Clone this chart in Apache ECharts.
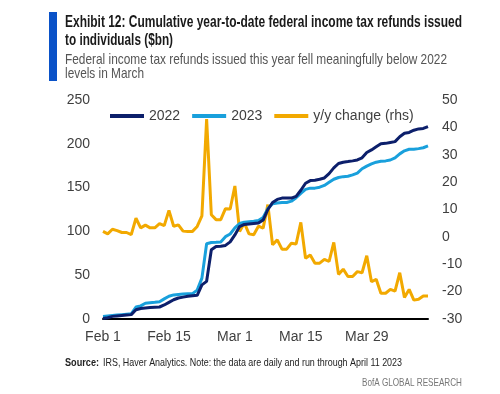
<!DOCTYPE html>
<html>
<head>
<meta charset="utf-8">
<style>
html,body{margin:0;padding:0;background:#fff;}
#chart{width:500px;height:394px;}
</style>
<script src="https://cdn.jsdelivr.net/npm/echarts@6/dist/echarts.min.js"></script>
</head>
<body>
<div id="chart"></div>
<script>
// Dates: Feb 1 .. Apr 11 (daily)
const dates = (function(){
  const out = [];
  const dim = {Feb:28, Mar:31, Apr:11};
  ['Feb','Mar','Apr'].forEach(m => { for (let d = 1; d <= dim[m]; d++) out.push(m + ' ' + d); });
  return out;
})();

const refunds2022 = [0.5,1.5,3,3.5,4,4.5,5,10.6,12,12.5,13,13.5,13.7,16,19,22,24,25,26,26.5,27,39,43,79,82.8,83,84,88,96,105.5,108,108.5,109,109.5,113,125,133,136.5,138,138,138,140,147,155,158,158.5,159.5,161,166,172.5,177.5,179,179.7,180.5,181.6,184,190,193,196.5,200,200.5,201.5,202.5,208,212,213,215.5,217,217.5,219.6];

const refunds2023 = [3,3.5,4,4.5,5,5.5,6,13.7,15,18,18.5,19,19.7,23,26,27.5,28,28.5,28.8,29,33,46.7,85.9,87.4,87.5,88,94,97,104,109,110.5,111,111.5,112.5,116,126,131.5,132.5,133,133,134.5,138.5,143.5,148,149.4,149.4,150.5,152.5,156,159.5,161.5,162.5,163,164.5,166.5,171.5,174.5,177,179,180,180.5,181.5,184,188.5,192,193.8,193.8,194.5,195.5,197.6];

const yoyChange = [2,1.1,2.8,2.3,1.6,1.6,0.8,6.8,3.3,4.3,3.3,3.3,4.8,4.1,9.7,3.9,4.4,2.1,2,2,3.8,7.7,43,8.1,6.3,6.3,10.3,10.2,18.6,2,5.1,1.1,0.8,3.9,3.2,11.8,-2.9,-1.1,-4.5,-4.5,-2.3,-2.6,5.3,-7.8,-6.6,-9.6,-9.6,-8.2,-9,-2,-13.7,-11.8,-14.5,-14.5,-12.7,-13.1,-6.9,-16.4,-15.5,-20.6,-20.6,-19.2,-19.8,-13.1,-22.1,-19.2,-23.1,-22.8,-21.6,-21.6];

const leftTicks = {min: 0, max: 250, interval: 50};
const rightTicks = {min: -30, max: 50, interval: 10};

const titleLines = ['Exhibit 12: Cumulative year-to-date federal income tax refunds issued', 'to individuals ($bn)'];
const subtitleLines = ['Federal income tax refunds issued this year fell meaningfully below 2022', 'levels in March'];
const sourceLabel = 'Source:';
const sourceText = 'IRS, Haver Analytics. Note: the data are daily and run through April 11 2023';
const footerText = 'BofA GLOBAL RESEARCH';

const C2022 = '#0c1f6b';
const C2023 = '#19a0dc';
const CYOY = '#f2a900';
const FONT = '"Liberation Sans", Arial, sans-serif';
const labelColor = '#3f3f3f';

const mctx = document.createElement('canvas').getContext('2d');
function measure(font, text) { mctx.font = font; return mctx.measureText(text).width; }
// horizontally condensed text (the original uses a narrow typeface)
function ctext(text, x, y, font, fill, targetWidth) {
  const w = measure(font, text);
  return {type: 'text', x: x, y: y, scaleX: targetWidth / w, scaleY: 1,
    style: {text: text, font: font, fill: fill, verticalAlign: 'middle', align: 'left'}};
}

const titleFont = 'bold 16px ' + FONT;
const subFont = '15px ' + FONT;
const srcBold = 'bold 11px ' + FONT;
const srcFont = '11px ' + FONT;

const chart = echarts.init(document.getElementById('chart'), null, {renderer: 'canvas'});
chart.setOption({
  animation: false,
  backgroundColor: '#fff',
  textStyle: {fontFamily: FONT},
  grid: {left: 103, right: 72, top: 100, bottom: 75, containLabel: false},
  legend: {
    left: 110, top: 109, padding: 0,
    itemWidth: 34, itemHeight: 4, itemGap: 12, itemTextGap: 2,
    icon: 'rect',
    textStyle: {fontSize: 14, color: labelColor, fontFamily: FONT},
    data: ['2022', '2023', 'y/y change (rhs)']
  },
  xAxis: {
    type: 'category',
    data: dates,
    boundaryGap: false,
    axisLine: {show: true, lineStyle: {color: '#000', width: 2}},
    axisTick: {show: false},
    axisLabel: {interval: 13, margin: 11, fontSize: 14, color: labelColor, fontFamily: FONT},
    splitLine: {show: false}
  },
  yAxis: [
    {
      type: 'value', position: 'left',
      min: leftTicks.min, max: leftTicks.max, interval: leftTicks.interval,
      axisLine: {show: false}, axisTick: {show: false}, splitLine: {show: false},
      axisLabel: {margin: 13, fontSize: 14, color: labelColor, fontFamily: FONT}
    },
    {
      type: 'value', position: 'right',
      min: rightTicks.min, max: rightTicks.max, interval: rightTicks.interval,
      axisLine: {show: false}, axisTick: {show: false}, splitLine: {show: false},
      axisLabel: {margin: 14, fontSize: 14, color: labelColor, fontFamily: FONT}
    }
  ],
  series: [
    {name: '2022', type: 'line', data: refunds2022, yAxisIndex: 0, showSymbol: false, symbol: 'none',
     lineStyle: {color: C2022, width: 3}, itemStyle: {color: C2022}, z: 3},
    {name: '2023', type: 'line', data: refunds2023, yAxisIndex: 0, showSymbol: false, symbol: 'none',
     lineStyle: {color: C2023, width: 3}, itemStyle: {color: C2023}, z: 2},
    {name: 'y/y change (rhs)', type: 'line', data: yoyChange, yAxisIndex: 1, showSymbol: false, symbol: 'none',
     lineStyle: {color: CYOY, width: 3}, itemStyle: {color: CYOY}, z: 1}
  ],
  graphic: [
    {type: 'rect', x: 49, y: 12, shape: {width: 8, height: 69}, style: {fill: '#0a52c8'}},
    ctext(titleLines[0], 65, 23, titleFont, '#1a1a1a', 397),
    ctext(titleLines[1], 65, 41, titleFont, '#1a1a1a', 108),
    ctext(subtitleLines[0], 65, 60, subFont, '#555', 382),
    ctext(subtitleLines[1], 65, 74, subFont, '#555', 79),
    ctext(sourceLabel, 65, 363, srcBold, '#222', 34),
    ctext(sourceText, 103, 363, srcFont, '#222', 299),
    ctext(footerText, 362, 383, srcFont, '#777', 100)
  ]
});
</script>
</body>
</html>
